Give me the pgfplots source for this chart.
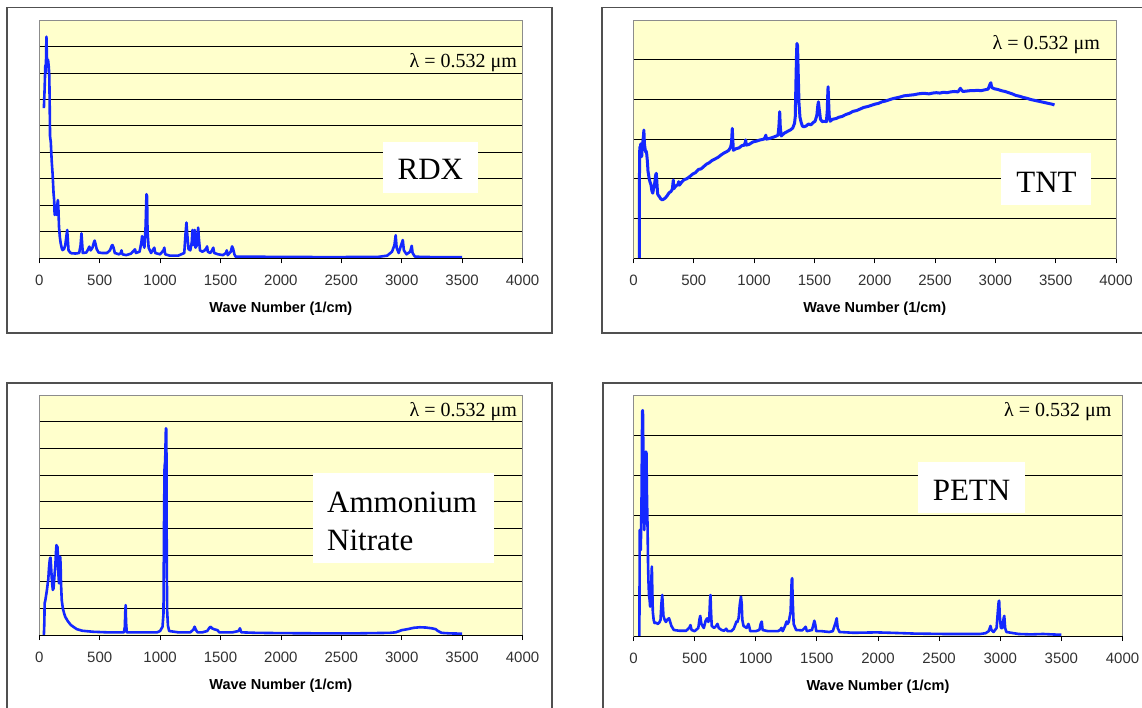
\documentclass[border=0pt]{standalone}
\usepackage{pgfplots}
\pgfplotsset{compat=1.18}
\usepackage{fontspec}
\setmainfont{Liberation Serif}
\setsansfont{Liberation Sans}
\definecolor{plotyellow}{RGB}{255,255,204}
\definecolor{specblue}{RGB}{20,40,255}
\definecolor{framegray}{RGB}{80,80,80}
\definecolor{areagray}{RGB}{140,140,140}
\definecolor{tickgray}{RGB}{50,50,50}
\newcommand\ticklabfont{\sffamily\fontsize{15}{18}\selectfont}
\newcommand\xlabfont{\sffamily\bfseries\fontsize{14.5}{17}\selectfont}
\newcommand\lamfont{\rmfamily\fontsize{20}{24}\selectfont}
\newcommand\namefont{\rmfamily\fontsize{31}{36}\selectfont}

\pgfplotsset{
  spec/.style={
    scale only axis,
    anchor=north west,
    xmin=0, xmax=4000, ymin=0,
    xtick={0,500,...,4000},
    yticklabels={},
    ymajorgrids,
    major grid style={black, line width=0.9pt},
    axis background/.style={fill=plotyellow},
    axis line style={draw=areagray, line width=0.8pt},
    ytick style={draw=none},
    xtick style={black, line width=0.8pt},
    tick align=outside,
    xtick pos=left,
    major tick length=5pt,
    /pgf/number format/1000 sep={},
    /pgf/number format/assume math mode=true,
    xticklabel style={font=\ticklabfont, text=tickgray, yshift=-8pt},
    xlabel={Wave Number (1/cm)},
    xlabel style={font=\xlabfont, at={(axis description cs:0.5,0)}, anchor=center, yshift=-50.5pt},
    clip mode=individual,
    no markers,
    after end axis/.code={\draw[black, line width=0.9pt] (rel axis cs:0,0) -- (rel axis cs:1,0);},
  },
  specline/.style={specblue, line width=2.6pt, line join=round, mark=none},
}

\pgfplotstableread{
x y
38 5.67
44 6.4
50 7.3
54 7.0
59 8.37
63 7.6
68 7.24
72 7.5
74 7.43
79 7.2
83 6.86
86 5.8
89 4.6
95 4.4
103 3.65
110 3.2
118 2.46
123 2.2
127 1.64
135 1.7
142 1.64
148 2.0
154 2.2
158 1.9
163 1.2
170 0.8
177 0.57
185 0.4
192 0.31
205 0.35
215 0.5
222 0.75
231 1.07
236 0.7
242 0.3
255 0.22
266 0.19
300 0.18
330 0.2
342 0.5
349 0.94
354 0.6
360 0.2
390 0.22
405 0.35
414 0.44
425 0.3
440 0.4
452 0.6
458 0.67
465 0.55
475 0.35
490 0.22
520 0.2
560 0.2
585 0.3
600 0.48
606 0.5
615 0.4
625 0.2
660 0.15
675 0.2
680 0.3
688 0.15
720 0.12
760 0.18
785 0.3
792 0.34
800 0.2
830 0.25
845 0.6
851 0.84
858 0.6
870 0.4
880 1.2
887 2.42
892 2.35
896 1.0
905 0.4
925 0.2
945 0.35
952 0.4
960 0.2
1000 0.15
1028 0.3
1035 0.4
1042 0.15
1080 0.1
1150 0.1
1200 0.2
1210 0.9
1218 1.35
1225 0.9
1235 0.35
1250 0.3
1262 0.6
1268 1.07
1275 0.5
1282 0.9
1286 1.07
1293 0.4
1305 0.5
1315 1.16
1320 0.8
1330 0.3
1350 0.25
1370 0.3
1385 0.4
1389 0.45
1395 0.25
1415 0.2
1430 0.3
1440 0.4
1448 0.2
1480 0.15
1520 0.12
1545 0.2
1552 0.3
1560 0.12
1585 0.25
1596 0.45
1605 0.35
1615 0.15
1625 0.06
1800 0.06
2000 0.05
2200 0.05
2400 0.04
2600 0.05
2800 0.05
2880 0.1
2920 0.25
2940 0.5
2950 0.87
2958 0.4
2975 0.2
2995 0.5
3009 0.69
3018 0.3
3040 0.15
3070 0.25
3083 0.47
3090 0.2
3110 0.06
3300 0.04
3500 0.04
}\rdx

\pgfplotstableread{
x y
40 0
48 0
50 2.6
53 2.81
57 2.75
60 2.88
64 2.7
68 2.56
72 2.8
78 2.95
83 3.1
86 3.23
90 2.9
95 2.78
100 2.68
105 2.7
109 2.64
115 2.45
120 2.2
123 2.14
130 2.0
137 1.92
145 1.85
152 1.7
160 1.64
166 1.75
172 1.8
178 1.95
184 2.1
189 2.14
194 1.9
200 1.62
207 1.58
215 1.55
225 1.5
238 1.47
250 1.49
265 1.52
280 1.58
295 1.65
310 1.68
322 1.74
330 1.97
334 1.75
345 1.8
360 1.84
370 1.87
375 1.93
380 1.84
400 1.92
420 1.98
440 2.0
467 2.06
490 2.12
515 2.16
540 2.24
560 2.25
582 2.31
605 2.37
625 2.4
650 2.46
675 2.5
700 2.54
725 2.6
750 2.65
770 2.68
790 2.72
805 2.8
812 2.9
819 3.27
823 3.0
828 2.72
850 2.76
875 2.78
900 2.84
915 2.84
925 2.9
930 2.98
935 2.85
960 2.87
990 2.93
1020 2.95
1050 2.98
1080 3.0
1092 3.05
1097 3.1
1102 3.0
1130 3.02
1160 3.05
1185 3.08
1198 3.1
1205 3.3
1212 3.69
1217 3.3
1225 3.08
1250 3.15
1280 3.2
1300 3.23
1320 3.28
1335 3.4
1341 3.57
1347 4.5
1352 5.2
1355 5.41
1360 5.35
1366 4.6
1372 3.9
1380 3.55
1390 3.42
1400 3.33
1412 3.31
1430 3.33
1450 3.38
1470 3.36
1490 3.42
1505 3.45
1520 3.6
1528 3.85
1533 3.94
1540 3.75
1550 3.5
1565 3.44
1580 3.45
1599 3.44
1606 3.7
1610 4.1
1613 4.32
1617 4.0
1622 3.6
1630 3.45
1650 3.5
1680 3.52
1700 3.55
1728 3.57
1760 3.62
1790 3.65
1820 3.7
1850 3.72
1880 3.76
1910 3.8
1940 3.82
1970 3.85
2000 3.88
2030 3.9
2060 3.94
2090 3.96
2120 3.99
2150 4.02
2180 4.04
2210 4.06
2240 4.09
2270 4.1
2300 4.11
2330 4.12
2360 4.14
2390 4.15
2420 4.15
2450 4.14
2480 4.16
2510 4.17
2540 4.16
2570 4.18
2600 4.17
2630 4.19
2660 4.2
2690 4.19
2710 4.28
2716 4.25
2730 4.2
2760 4.21
2790 4.22
2820 4.22
2850 4.23
2880 4.22
2910 4.24
2940 4.26
2955 4.38
2962 4.42
2970 4.3
2990 4.27
3020 4.25
3050 4.22
3080 4.2
3110 4.17
3140 4.14
3170 4.1
3200 4.08
3230 4.05
3260 4.03
3290 4.0
3320 3.98
3350 3.96
3380 3.94
3410 3.92
3440 3.9
3470 3.88
3490 3.86
}\tnt

\pgfplotstableread{
x y
38 0
42 0.5
44 1.19
50 1.3
55 1.45
59 1.56
65 1.75
70 1.95
74 2.06
80 2.5
85 2.75
89 2.88
93 2.9
97 2.6
102 2.2
107 1.9
112 1.69
118 1.75
122 2.0
127 2.3
133 2.62
138 3.1
142 3.37
146 3.3
150 3.32
154 3.0
158 2.3
163 1.94
167 2.3
171 2.94
174 2.9
177 2.5
180 1.9
186 1.3
195 1.0
205 0.82
215 0.68
236 0.52
260 0.38
281 0.31
310 0.22
355 0.16
400 0.14
450 0.12
562 0.1
650 0.1
700 0.1
708 0.3
712 0.9
715 1.12
718 0.5
724 0.1
800 0.1
900 0.1
975 0.1
1000 0.15
1020 0.31
1028 0.8
1033 4.5
1037 6.31
1042 6.5
1047 7.6
1049 7.75
1052 7.7
1055 3.0
1058 0.94
1065 0.35
1075 0.15
1150 0.1
1250 0.1
1275 0.2
1286 0.31
1295 0.2
1310 0.1
1350 0.1
1390 0.15
1410 0.28
1419 0.31
1430 0.25
1445 0.22
1460 0.2
1475 0.18
1490 0.1
1600 0.1
1650 0.15
1661 0.25
1672 0.1
1800 0.08
2000 0.07
2400 0.06
2600 0.06
2900 0.08
2950 0.1
3000 0.18
3050 0.22
3100 0.27
3150 0.29
3200 0.28
3250 0.25
3281 0.22
3300 0.15
3330 0.08
3400 0.06
3500 0.05
}\amn

\pgfplotstableread{
x y
42 0
48 0
51 2.64
55 2.5
59 2.14
62 2.6
66 3.5
69 4.8
71 5.59
75 5.62
78 5.5
81 4.2
85 3.2
88 2.64
92 3.0
96 3.8
100 4.4
102 4.59
106 4.55
110 3.5
115 2.7
119 1.8
122 1.39
127 1.0
132 0.9
136 0.73
142 1.1
146 1.4
150 1.73
154 1.1
158 0.6
165 0.4
172 0.32
185 0.33
200 0.3
212 0.34
221 0.4
228 0.8
235 1.02
240 0.75
245 0.5
255 0.4
265 0.35
280 0.42
291 0.44
300 0.35
310 0.25
330 0.15
376 0.13
430 0.13
455 0.2
466 0.27
475 0.15
500 0.12
530 0.2
540 0.42
546 0.5
555 0.3
575 0.2
590 0.38
602 0.44
612 0.35
620 0.45
626 0.9
630 1.02
634 0.6
640 0.25
660 0.2
676 0.25
687 0.3
697 0.2
720 0.15
740 0.13
758 0.18
770 0.12
800 0.12
820 0.18
835 0.3
842 0.36
850 0.35
860 0.45
870 0.8
879 0.98
885 0.8
890 0.4
900 0.25
925 0.2
940 0.3
947 0.23
955 0.12
1000 0.12
1030 0.15
1040 0.3
1049 0.36
1056 0.15
1100 0.12
1180 0.12
1200 0.15
1210 0.2
1220 0.12
1240 0.25
1252 0.36
1260 0.3
1270 0.35
1285 0.6
1294 1.4
1298 1.44
1302 0.9
1310 0.3
1330 0.15
1380 0.14
1400 0.2
1408 0.23
1418 0.12
1460 0.15
1473 0.3
1479 0.38
1486 0.3
1495 0.12
1540 0.12
1600 0.1
1630 0.12
1650 0.3
1662 0.44
1670 0.2
1685 0.1
1800 0.08
1987 0.09
2100 0.08
2300 0.06
2553 0.05
2835 0.05
2880 0.07
2905 0.12
2915 0.2
2920 0.25
2928 0.15
2945 0.1
2970 0.2
2980 0.6
2987 0.85
2991 0.88
2996 0.5
3005 0.2
3018 0.2
3028 0.45
3033 0.5
3040 0.2
3050 0.1
3150 0.05
3250 0.04
3350 0.05
3420 0.04
3500 0.03
}\petn

\begin{document}
\begin{tikzpicture}
\useasboundingbox (0,0) rectangle (1142pt,-708pt);
\clip (0,0) rectangle (1142pt,-708pt);
\fill[white] (0,0) rectangle (1142pt,-708pt);

% outer frames
\draw[framegray, line width=1.3pt] (7pt,-7.5pt) rectangle (552pt,-333pt);
\draw[framegray, line width=1.3pt] (602pt,-7.5pt) rectangle (1152pt,-333pt);
\draw[framegray, line width=1.3pt] (7pt,-383pt) rectangle (552pt,-720pt);
\draw[framegray, line width=1.3pt] (603pt,-383pt) rectangle (1152pt,-720pt);

% RDX
\begin{axis}[spec, at={(39.3pt,-20pt)}, width=483.2pt, height=238.3pt,
  ymax=9, ytick={1,...,8}]
\addplot[specline] table[x=x,y=y] {\rdx};
\end{axis}

% TNT
\begin{axis}[spec, at={(633.5pt,-20pt)}, width=482.5pt, height=238.3pt,
  ymax=6, ytick={1,...,5}]
\addplot[specline, line width=3pt] table[x=x,y=y] {\tnt};
\end{axis}

% Ammonium nitrate
\begin{axis}[spec, at={(39.3pt,-395pt)}, width=483.2pt, height=240pt,
  ymax=9, ytick={1,...,8}]
\addplot[specline] table[x=x,y=y] {\amn};
\end{axis}

% PETN
\begin{axis}[spec, at={(633.5pt,-395pt)}, width=489pt, height=241pt,
  ymax=6, ytick={1,...,5}]
\addplot[specline] table[x=x,y=y] {\petn};
\end{axis}

% wavelength labels
\node[anchor=base east, font=\lamfont, inner sep=0] at (517pt,-68pt) {λ = 0.532 μm};
\node[anchor=base east, font=\lamfont, inner sep=0] at (1100pt,-50pt) {λ = 0.532 μm};
\node[anchor=base east, font=\lamfont, inner sep=0] at (517pt,-416.7pt) {λ = 0.532 μm};
\node[anchor=base east, font=\lamfont, inner sep=0] at (1111.6pt,-416.7pt) {λ = 0.532 μm};

% name boxes
\fill[white] (383pt,-142pt) rectangle (478pt,-193pt);
\node[anchor=base, font=\namefont, inner sep=0] at (430.3pt,-180pt) {RDX};
\fill[white] (1001pt,-153pt) rectangle (1091pt,-205pt);
\node[anchor=base, font=\namefont, inner sep=0] at (1046.5pt,-192.7pt) {TNT};
\fill[white] (312.5pt,-473pt) rectangle (494pt,-563pt);
\node[anchor=base west, font=\namefont, inner sep=0] at (327pt,-512.7pt) {Ammonium};
\node[anchor=base west, font=\namefont, inner sep=0] at (327pt,-550pt) {Nitrate};
\fill[white] (918pt,-462pt) rectangle (1025pt,-513pt);
\node[anchor=base, font=\namefont, inner sep=0] at (971.5pt,-500.7pt) {PETN};
\end{tikzpicture}
\end{document}
